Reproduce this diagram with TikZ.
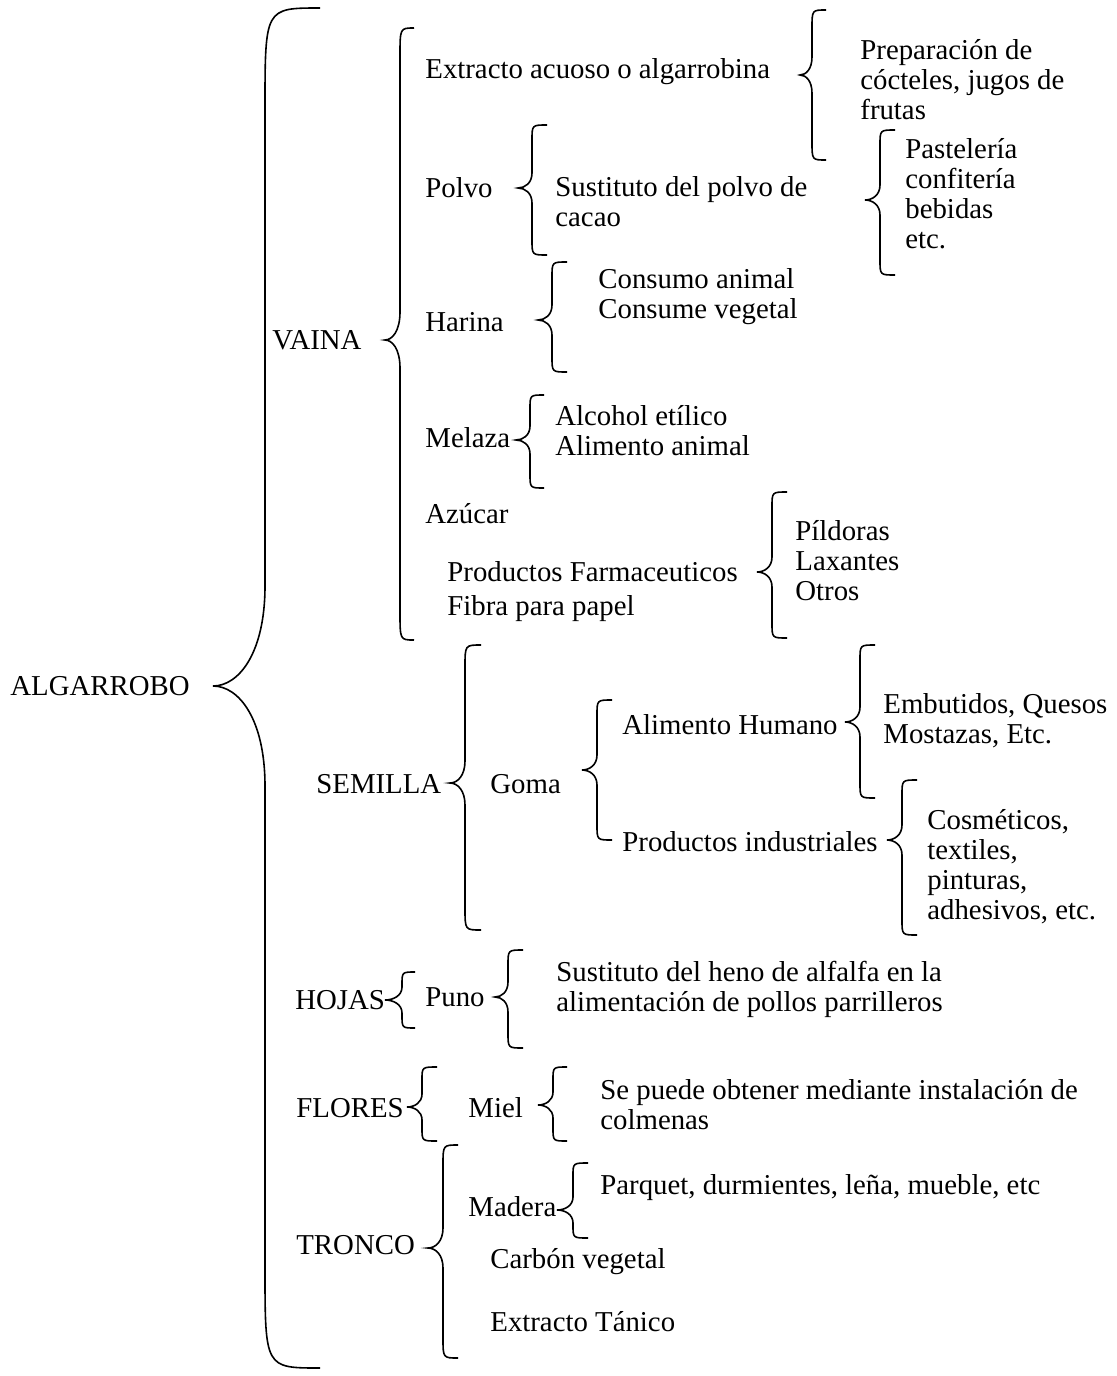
\documentclass[tikz,border=0pt]{standalone}
\usepackage{fontspec}
\setmainfont{Liberation Serif}
\tikzstyle{texto} = [anchor=west, align=left, inner sep=0pt, font=\fontsize{14.4pt}{15pt}\selectfont]
\tikzstyle{llave} = [draw, line width=0.8pt]
% llave: x, arriba, abajo, punta x, punta y, ancho, alto de la curva
\newcommand{\llave}[7]{%
  \path [llave] ({#1+#6},#2) .. controls (#1,#2) .. (#1,{#2+#7}) -- (#1,{#5-#7})
    .. controls (#1,{#5-#7/3}) and ({(#1+#4)/2},#5) .. (#4,#5)
    .. controls ({(#1+#4)/2},#5) and (#1,{#5+#7/3}) .. (#1,{#5+#7})
    -- (#1,{#3-#7}) .. controls (#1,#3) .. ({#1+#6},#3);}

\begin{document}
\begin{tikzpicture}[x=0.5pt, y=-0.5pt]
        \useasboundingbox (0,0) rectangle (1116,1376);
        % Place nodes
        \node [texto] (algarrobo) at (10,686) {ALGARROBO};
        \node [texto] (vaina) at (272,340) {VAINA};
        \node [texto] (extracto) at (425,72) {Extracto acuoso o algarrobina};
        \node [texto] (cocteles) at (860,80) {Preparación de\\cócteles, jugos de\\frutas};
        \node [texto] (polvo) at (425,188) {Polvo};
        \node [texto] (cacao) at (555,202) {Sustituto del polvo de\\cacao};
        \node [texto] (pasteleria) at (905,194) {Pastelería\\confitería\\bebidas\\etc.};
        \node [texto] (harina) at (425,322) {Harina};
        \node [texto] (consumo) at (598,297) {Consumo animal\\Consume vegetal};
        \node [texto] (melaza) at (425,438) {Melaza};
        \node [texto] (alcohol) at (555,431) {Alcohol etílico\\Alimento animal};
        \node [texto] (azucar) at (425,514) {Azúcar};
        \node [texto] (farma) at (447,572) {Productos Farmaceuticos};
        \node [texto] (fibra) at (447,609) {Fibra para papel};
        \node [texto] (pildoras) at (795,561) {Píldoras\\Laxantes\\Otros};
        \node [texto] (semilla) at (316,784) {SEMILLA};
        \node [texto] (goma) at (490,784) {Goma};
        \node [texto] (humano) at (622,725) {Alimento Humano};
        \node [texto] (embutidos) at (883,721) {Embutidos, Quesos\\Mostazas, Etc.};
        \node [texto] (industriales) at (622,842) {Productos industriales};
        \node [texto] (cosmeticos) at (927,867) {Cosméticos,\\textiles,\\pinturas,\\adhesivos, etc.};
        \node [texto] (hojas) at (295,1000) {HOJAS};
        \node [texto] (puno) at (425,997) {Puno};
        \node [texto] (heno) at (556,989) {Sustituto del heno de alfalfa en la\\alimentación de pollos parrilleros};
        \node [texto] (flores) at (296,1108) {FLORES};
        \node [texto] (miel) at (468,1108) {Miel};
        \node [texto] (colmenas) at (600,1105) {Se puede obtener mediante instalación de\\colmenas};
        \node [texto] (tronco) at (296,1245) {TRONCO};
        \node [texto] (madera) at (468,1207) {Madera};
        \node [texto] (parquet) at (600,1188) {Parquet, durmientes, leña, mueble, etc};
        \node [texto] (carbon) at (490,1262) {Carbón vegetal};
        \node [texto] (tanico) at (490,1322) {Extracto Tánico};
        % Draw braces
        \llave{265}{8}{1368}{213}{686}{55}{100}
        \llave{400}{28}{640}{385}{340}{14}{28}
        \llave{812}{10}{160}{800}{75}{14}{18}
        \llave{532}{125}{255}{518}{188}{15}{15}
        \llave{880}{130}{275}{865}{200}{15}{15}
        \llave{552}{262}{372}{538}{320}{15}{15}
        \llave{530}{395}{488}{516}{440}{14}{14}
        \llave{772}{492}{638}{757}{572}{15}{15}
        \llave{465}{645}{930}{450}{783}{16}{22}
        \llave{597}{700}{840}{582}{770}{15}{15}
        \llave{860}{645}{798}{845}{722}{15}{15}
        \llave{902}{780}{935}{887}{840}{15}{15}
        \llave{402}{972}{1028}{385}{1000}{13}{13}
        \llave{508}{950}{1048}{495}{997}{15}{15}
        \llave{422}{1067}{1141}{407}{1107}{15}{13}
        \llave{553}{1067}{1141}{538}{1105}{14}{13}
        \llave{443}{1145}{1358}{428}{1248}{15}{20}
        \llave{573}{1163}{1238}{557}{1210}{15}{13}
    \end{tikzpicture}
\end{document}
